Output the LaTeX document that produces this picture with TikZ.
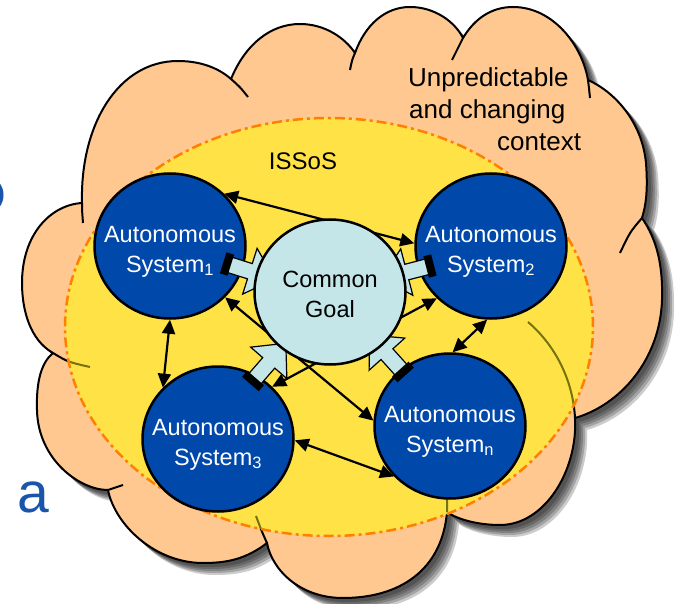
\documentclass[tikz,border=0pt]{standalone}
\usepackage{fontspec}
\setmainfont{Liberation Sans}
\usetikzlibrary{shapes.geometric,arrows.meta}
\definecolor{peach}{RGB}{255,200,145}
\definecolor{issyellow}{RGB}{255,226,70}
\definecolor{asblue}{RGB}{0,72,170}
\definecolor{goalcyan}{RGB}{197,230,232}
\definecolor{dashorange}{RGB}{255,128,0}
\definecolor{stubolive}{RGB}{115,115,15}
\definecolor{letterblue}{RGB}{25,85,170}

\newcommand\cloudshape[1]{\path[#1] (82,-203)
 .. controls (80,-125) and (118,-61) .. (178,-61) .. controls (205,-61) and (222,-71) .. (231,-79)
 .. controls (245,-45) and (270,-24) .. (300,-24) .. controls (325,-24) and (345,-38) .. (355,-53)
 .. controls (365,-25) and (385,-7) .. (410,-7) .. controls (435,-7) and (455,-22) .. (463,-38)
 .. controls (475,-18) and (492,-7) .. (513,-7) .. controls (553,-7) and (582,-45) .. (588,-80)
 .. controls (615,-92) and (642,-122) .. (646,-163) .. controls (648,-190) and (646,-205) .. (642,-218)
 .. controls (657,-240) and (663,-265) .. (662,-300) .. controls (660,-360) and (620,-405) .. (575,-418)
 .. controls (578,-470) and (545,-525) .. (500,-525) .. controls (475,-525) and (455,-518) .. (447,-512)
 .. controls (442,-570) and (400,-598) .. (343,-598) .. controls (300,-598) and (272,-570) .. (267,-543)
 .. controls (245,-560) and (225,-563) .. (203,-563) .. controls (155,-563) and (115,-525) .. (108,-490)
 .. controls (80,-490) and (38,-460) .. (37,-410) .. controls (36,-380) and (42,-362) .. (53,-353)
 .. controls (30,-340) and (22,-310) .. (22,-283) .. controls (22,-235) and (50,-205) .. (82,-203)
 -- cycle;}

\newcommand\innerstubs[1]{\draw[#1]
 (528,-322) .. controls (555,-345) and (573,-380) .. (575,-418)
 (447,-496) -- (447,-512)
 (267,-543) .. controls (262,-532) .. (256,-516)
 (53,-353) .. controls (68,-362) .. (90,-367);}

\newcommand\blockarrow[2]{\begin{scope}[shift={#1},rotate=#2]
 \filldraw[fill=goalcyan,draw=black,line width=1.2pt,line join=miter]
   (0,-8) -- (24,-8) -- (24,-24) -- (50,0) -- (24,24) -- (24,8) -- (0,8) -- cycle;
 \fill[black] (-4,-11) rectangle (4,11);
\end{scope}}

\tikzset{
  mytip/.tip={Triangle[length=14pt,width=13pt]},
  asnode/.style={ellipse, draw=black, line width=2.5pt, fill=asblue,
    minimum width=151pt, minimum height=145pt, inner sep=0pt},
  goalnode/.style={asnode, fill=goalcyan},
  astext/.style={inner sep=0pt, text=white, align=center,
    font=\fontsize{23.5}{30}\selectfont},
  goaltext/.style={astext, text=black},
  conn/.style={line width=2.2pt, mytip-mytip},
  stubline/.style={black, line width=2pt},
  ctxtext/.style={anchor=base west, inner sep=0pt, font=\fontsize{26}{31}\selectfont}
}

\begin{document}
\begin{tikzpicture}[x=1pt,y=1pt]
\clip (0,0) rectangle (675,-604);
\fill[white] (0,0) rectangle (675,-604);

% shadow of the cloud
\foreach \k in {4,6,8,10,12}{\cloudshape{fill=black,fill opacity=0.2,shift={(\k,-\k)}}}
% cloud
\cloudshape{fill=peach,draw=black,line width=2pt,line join=round}
% stubs of the cloud bumps
\draw[stubline]
 (82,-203) .. controls (82,-210) .. (83,-223)
 (231,-79) .. controls (240,-87) .. (248,-97)
 (355,-53) .. controls (352,-60) .. (350,-70)
 (463,-38) .. controls (458,-48) .. (452,-60)
 (588,-80) .. controls (589,-88) .. (590,-98)
 (642,-218) .. controls (630,-232) .. (620,-253)
 (108,-490) .. controls (115,-488) .. (123,-485);
\innerstubs{stubline}

% ISSoS region
\fill[issyellow] (329,-327) ellipse [x radius=264, y radius=209];
\begin{scope}
 \clip (329,-327) ellipse [x radius=264, y radius=209];
 \innerstubs{stubolive, line width=2pt}
\end{scope}
\draw[dashorange, line width=2.5pt, dash pattern=on 10pt off 4pt on 3pt off 4pt]
  (329,-327) ellipse [x radius=264, y radius=209];

% texts
\node[font=\fontsize{24}{28}\selectfont, inner sep=0pt] (issos) at (303,-161) {ISSoS};
\node[ctxtext] (ctx1) at (408,-87) {Unpredictable};
\node[ctxtext] (ctx2) at (409,-119) {and changing};
\node[ctxtext] (ctx3) at (497,-151) {context};
\node[anchor=base west, inner sep=0pt, text=letterblue, font=\fontsize{57}{64}\selectfont] (lettera) at (17,-512) {a};
\draw[letterblue, line width=3.5pt] (-2,-184) .. controls (3,-190) and (3,-200) .. (-2,-206);

% autonomous systems
\node[asnode] (AS1) at (170,-246) {};
\node[asnode] (AS2) at (491,-246) {};
\node[asnode] (AS3) at (218,-439) {};
\node[asnode] (ASn) at (450,-426) {};
\node[astext] (AS1t) at (AS1.center) {\rule{0pt}{27pt}Autonomous\\System\textsubscript{1}};
\node[astext] (AS2t) at (AS2.center) {\rule{0pt}{27pt}Autonomous\\System\textsubscript{2}};
\node[astext] (AS3t) at (AS3.center) {\rule{0pt}{27pt}Autonomous\\System\textsubscript{3}};
\node[astext] (ASnt) at (ASn.center) {\rule{0pt}{27pt}Autonomous\\System\textsubscript{n}};

% connectors
\draw[conn] (AS1.44.5) -- (AS2.178.5);
\draw[conn] (AS1.-43.5) -- (ASn.176);
\draw[conn] (AS3.44.4) -- (AS2.224.5);
\draw[conn] (AS1.-90) -- (AS3.137);
\draw[conn] (AS3.-1) -- (ASn.222);
\draw[conn] (AS2.-93) -- (ASn.88);

% block arrows towards the common goal
\coordinate (b1) at (227,-264);
\coordinate (b2) at (430,-266);
\coordinate (b3) at (253,-381);
\coordinate (b4) at (403,-372);
\blockarrow{(b1)}{-17.5}
\blockarrow{(b2)}{194.6}
\blockarrow{(b3)}{49}
\blockarrow{(b4)}{132}

% common goal
\node[goalnode] (CG) at (330,-292) {};
\node[goaltext] (CGt) at (CG.center) {\rule{0pt}{22pt}Common\\Goal};
\end{tikzpicture}
\end{document}
